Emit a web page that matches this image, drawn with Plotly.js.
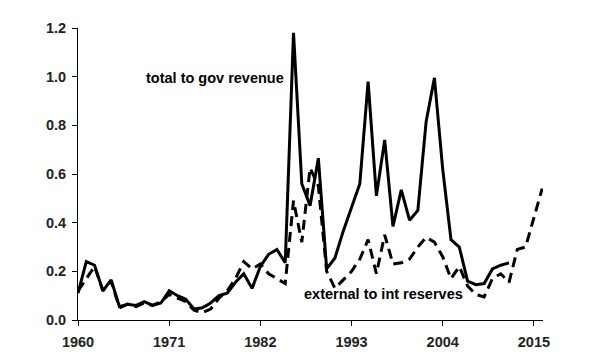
<!DOCTYPE html>
<html>
<head>
<meta charset="utf-8">
<script src="https://cdn.plot.ly/plotly-3.0.1.min.js"></script>
<style>html,body{margin:0;padding:0;background:#fff;}#chart{width:600px;height:360px;}</style>
</head>
<body>
<div id="chart"></div>
<script>
var years = [];
for (var y = 1960; y <= 2016; y++) years.push(y);

var totalToGovRevenue = [
  0.11, 0.24, 0.225, 0.12, 0.165, 0.055, 0.065, 0.06, 0.075, 0.06,
  0.07, 0.12, 0.10, 0.085, 0.045, 0.05, 0.07, 0.10, 0.11, 0.155,
  0.19, 0.13, 0.22, 0.27, 0.29, 0.235, 1.18, 0.56, 0.47, 0.665,
  0.21, 0.255, 0.365, 0.46, 0.56, 0.98, 0.51, 0.74, 0.385, 0.535,
  0.41, 0.45, 0.815, 0.995, 0.62, 0.33, 0.30, 0.16, 0.145, 0.15,
  0.21, 0.225, 0.235, null, null, null, null
];

var externalToIntReserves = [
  0.12, 0.17, 0.22, 0.12, 0.16, 0.05, 0.065, 0.055, 0.07, 0.06,
  0.075, 0.105, 0.09, 0.075, 0.04, 0.03, 0.045, 0.09, 0.12, 0.17,
  0.24, 0.21, 0.23, 0.19, 0.17, 0.15, 0.49, 0.32, 0.625, 0.55,
  0.20, 0.13, 0.165, 0.20, 0.25, 0.33, 0.19, 0.35, 0.23, 0.235,
  0.25, 0.30, 0.34, 0.32, 0.26, 0.17, 0.22, 0.14, 0.105, 0.095,
  0.17, 0.19, 0.155, 0.29, 0.30, 0.42, 0.54
];

var xTicks = [1960, 1971, 1982, 1993, 2004, 2015];
var yTicks = [0, 0.2, 0.4, 0.6, 0.8, 1.0, 1.2];
var labelTotal = "total to gov revenue";
var labelExternal = "external to int reserves";

var fontFam = "Arial, 'Liberation Sans', sans-serif";

var traces = [
  {x: years, y: totalToGovRevenue, type: 'scatter', mode: 'lines',
   line: {color: '#000', width: 3}, connectgaps: false, hoverinfo: 'skip'},
  {x: years, y: externalToIntReserves, type: 'scatter', mode: 'lines',
   line: {color: '#000', width: 3, dash: '10px,6px'}, hoverinfo: 'skip'}
];

var layout = {
  width: 600, height: 360,
  margin: {l: 78, r: 57, t: 28, b: 40, pad: 0},
  paper_bgcolor: '#fff', plot_bgcolor: '#fff',
  showlegend: false,
  font: {family: fontFam, size: 14, color: '#222'},
  xaxis: {
    range: [1960, 2016.1], tickvals: xTicks, ticktext: xTicks.map(String),
    showgrid: false, zeroline: false, showline: true, linecolor: '#000', linewidth: 1,
    ticks: 'outside', ticklen: 5, tickcolor: '#000', tickwidth: 1, ticklabelstandoff: 4,
    tickfont: {family: fontFam, size: 14.5, color: '#222', weight: 'bold'}
  },
  yaxis: {
    range: [0, 1.2], tickvals: yTicks, ticktext: yTicks.map(function(v){return v.toFixed(1);}),
    showgrid: false, zeroline: false, showline: true, linecolor: '#000', linewidth: 1,
    ticks: 'outside', ticklen: 5, tickcolor: '#000', tickwidth: 1, ticklabelstandoff: 3,
    tickfont: {family: fontFam, size: 14.5, color: '#222', weight: 'bold'}
  },
  annotations: [
    {x: 1968, y: 0.996, xref: 'x', yref: 'y', xanchor: 'left', yanchor: 'middle',
     text: labelTotal, showarrow: false,
     font: {family: fontFam, size: 14.5, color: '#000', weight: 'bold'}},
    {x: 1987.0, y: 0.105, xref: 'x', yref: 'y', xanchor: 'left', yanchor: 'middle',
     text: labelExternal, showarrow: false,
     font: {family: fontFam, size: 14.5, color: '#000', weight: 'bold'}}
  ]
};

Plotly.newPlot('chart', traces, layout, {staticPlot: true, displayModeBar: false});
</script>
</body>
</html>
